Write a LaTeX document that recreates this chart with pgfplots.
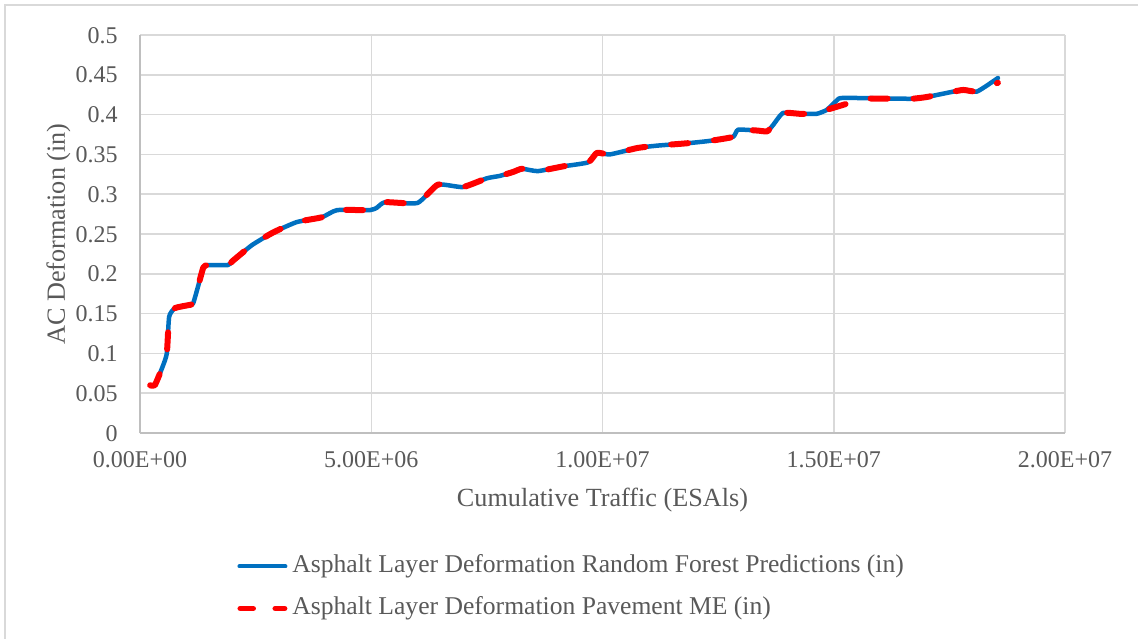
\documentclass[border=0pt]{standalone}
\usepackage{pgfplots}
\usepackage{pgfplotstable}
\pgfplotsset{compat=1.18}
\usepackage{fontspec}
\setmainfont{Liberation Serif}
\definecolor{txt}{HTML}{595959}
\definecolor{gridc}{HTML}{D9D9D9}
\definecolor{axc}{HTML}{BFBFBF}
\definecolor{rfblue}{HTML}{0070C0}
\definecolor{mered}{HTML}{FF0000}

% Random Forest predictions
\pgfplotstableread{
x y
220000 0.060
320000 0.060
480000 0.082
580000 0.100
630000 0.146
760000 0.157
1080000 0.161
1150000 0.163
1250000 0.183
1370000 0.208
1470000 0.211
1900000 0.211
2000000 0.216
2420000 0.236
2880000 0.252
3390000 0.265
3930000 0.271
4260000 0.280
4970000 0.280
5120000 0.283
5300000 0.290
6000000 0.289
6440000 0.312
6980000 0.309
7500000 0.320
7780000 0.323
8070000 0.328
8260000 0.332
8600000 0.329
9150000 0.335
9690000 0.340
9880000 0.352
10160000 0.350
10750000 0.358
11180000 0.361
11830000 0.364
12320000 0.367
12820000 0.372
12930000 0.381
13340000 0.380
13560000 0.379
13690000 0.387
13900000 0.402
14270000 0.401
14630000 0.401
14850000 0.406
15070000 0.418
15200000 0.421
16430000 0.420
16710000 0.420
17000000 0.422
17510000 0.428
17800000 0.431
18100000 0.429
18550000 0.446
}\rfdata

% Pavement ME
\pgfplotstableread{
x y
220000 0.060
320000 0.060
480000 0.082
580000 0.100
630000 0.146
760000 0.157
1080000 0.161
1150000 0.163
1250000 0.183
1370000 0.208
1470000 0.211
1900000 0.211
2000000 0.216
2420000 0.236
2880000 0.252
3390000 0.265
3930000 0.271
4260000 0.280
4970000 0.280
5120000 0.283
5300000 0.290
6000000 0.289
6440000 0.312
6980000 0.309
7500000 0.320
7780000 0.323
8070000 0.328
8260000 0.332
8600000 0.329
9150000 0.335
9690000 0.340
9880000 0.352
10160000 0.350
10750000 0.358
11180000 0.361
11830000 0.364
12320000 0.367
12820000 0.372
12930000 0.381
13340000 0.380
13560000 0.379
13690000 0.387
13900000 0.402
14270000 0.401
14630000 0.401
14850000 0.406
15300000 0.414
15600000 0.420
16430000 0.420
16710000 0.420
17000000 0.422
17510000 0.428
17800000 0.431
18100000 0.429
18550000 0.440
}\medata

\begin{document}
\begin{tikzpicture}[font=\fontsize{12}{14}\selectfont]
\useasboundingbox (-70pt,-102.5pt) rectangle (499pt,216.5pt);
% chart area border (cut on right and bottom)
\draw[gridc, line width=0.75pt] (-67.5pt,-110pt) -- (-67.5pt,214pt) -- (510pt,214pt);
\begin{axis}[
    at={(0,0)}, anchor=south west,
    scale only axis,
    width=462.5pt, height=199pt,
    xmin=0, xmax=2e7, ymin=0, ymax=0.5,
    xtick={0,5e6,1e7,1.5e7,2e7},
    xticklabels={0.00E+00,5.00E+06,1.00E+07,1.50E+07,2.00E+07},
    ytick={0,0.05,0.1,0.15,0.2,0.25,0.3,0.35,0.4,0.45,0.5},
    yticklabels={0,0.05,0.1,0.15,0.2,0.25,0.3,0.35,0.4,0.45,0.5},
    scaled x ticks=false, scaled y ticks=false,
    grid=major,
    major grid style={gridc, line width=0.75pt},
    axis lines*=left,
    axis line style={axc, line width=0.75pt, -},
    major tick length=0pt,
    tick label style={txt, inner sep=0pt, font=\fontsize{12}{14}\selectfont},
    xticklabel style={anchor=base, yshift=-17pt},
    yticklabel style={anchor=base east, xshift=-11pt, yshift=-4pt},
    xlabel={Cumulative Traffic (ESAls)},
    ylabel={AC Deformation (in)},
    every axis x label/.style={at={(rel axis cs:0.5,0)}, anchor=base, yshift=-36.5pt,
        inner sep=0pt, txt, font=\fontsize{13.1}{15}\selectfont},
    every axis y label/.style={at={(rel axis cs:0,0.5)}, rotate=90, anchor=base, yshift=37.5pt,
        inner sep=0pt, txt, font=\fontsize{13.1}{15}\selectfont},
    legend cell align=left,
    legend style={at={(rel axis cs:0.1049,-0.388)}, anchor=west, draw=none, fill=none,
        inner sep=0pt, row sep=9pt, column sep=2.5pt, text=txt,
        font=\fontsize{12.8}{15}\selectfont,
        nodes={inner sep=0pt, text depth=3pt, text height=9pt}},
]
\addplot[rfblue, line width=2.25pt, smooth, tension=0.3, line cap=round, line join=round,
    legend image code/.code={\draw[rfblue, line width=2pt, line cap=round] (1pt,0pt) -- (24pt,0pt);}]
    table[x=x, y=y] {\rfdata};
\addlegendentry{Asphalt Layer Deformation Random Forest Predictions (in)}
\addplot[mered, line width=3pt, smooth, tension=0.3, line cap=round, line join=round,
    dash pattern=on 8.5pt off 13pt,
    legend image code/.code={\draw[mered, line width=2.75pt, line cap=round, dash pattern=on 6.5pt off 11pt] (1.4pt,0pt) -- (23.6pt,0pt);}]
    table[x=x, y=y] {\medata};
\addlegendentry{Asphalt Layer Deformation Pavement ME (in)}
\end{axis}
\end{tikzpicture}
\end{document}
